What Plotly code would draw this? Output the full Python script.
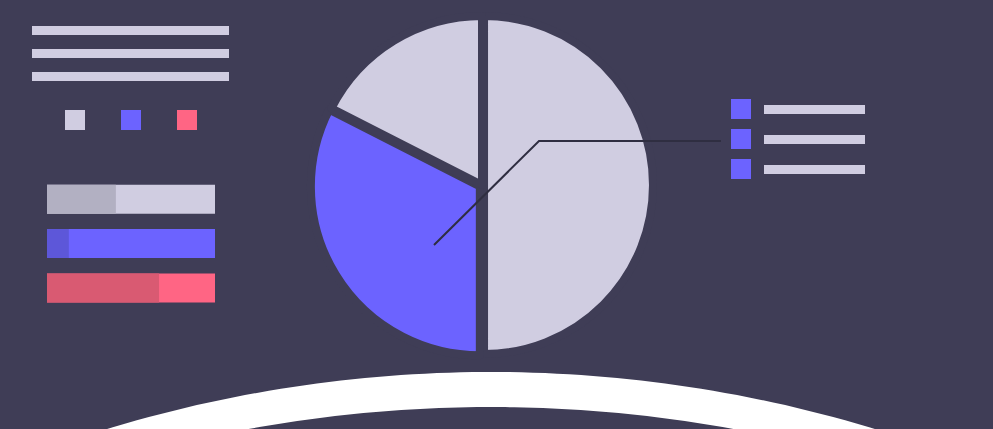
import numpy as np
import plotly.graph_objects as go

# ---- data ----
pie_labels = ["A", "B", "C"]
pie_values = [50, 32.5, 17.5]
pie_colors = ["#d0cde1", "#6c63ff", "#d0cde1"]
pie_pull = [0.012, 0.015, 0.0]

progress_names = ["one", "two", "three"]
progress_fracs = [0.41, 0.13, 0.667]
progress_main = ["#d0cde1", "#6c63ff", "#ff6584"]
progress_dark = ["#b2b0c2", "#5d57d9", "#d95a72"]

legend_colors = ["#d0cde1", "#6c63ff", "#ff6584"]

BG = "#3f3d56"
LIGHT = "#d0cde1"
BLUE = "#6c63ff"
DARK = "#2f2e41"
W, H = 993, 429

fig = go.Figure()

# progress bars (horizontal bars on a pixel-scaled hidden axis)
bar_y = [199.3, 243.5, 288.0]
bar_base, bar_len, bar_w = 47, 168, 29
fig.add_trace(go.Bar(
    y=bar_y, x=[bar_len] * 3, base=[bar_base] * 3, orientation="h",
    width=bar_w, marker=dict(color=progress_main, line=dict(width=0)),
    hoverinfo="skip", showlegend=False))
fig.add_trace(go.Bar(
    y=bar_y, x=[f * bar_len for f in progress_fracs], base=[bar_base] * 3,
    orientation="h", width=bar_w,
    marker=dict(color=progress_dark, line=dict(width=0)),
    hoverinfo="skip", showlegend=False))

# pie
cx, cy, R = 482, 185, 171.5
fig.add_trace(go.Pie(
    labels=pie_labels, values=pie_values, sort=False, direction="clockwise",
    rotation=0, pull=pie_pull, textinfo="none", hoverinfo="skip",
    marker=dict(colors=pie_colors, line=dict(color=BG, width=8)),
    domain=dict(x=[(cx - R) / W, (cx + R) / W],
                y=[(H - cy - R) / H, (H - cy + R) / H]),
    showlegend=False))

shapes = []
# top-left text lines
for y0 in [26, 49, 72]:
    shapes.append(dict(type="rect", x0=32, x1=229, y0=y0, y1=y0 + 9,
                       fillcolor=LIGHT, line=dict(width=0)))
# left legend squares
for x0, c in zip([65, 121, 177], legend_colors):
    shapes.append(dict(type="rect", x0=x0, x1=x0 + 20, y0=110, y1=130,
                       fillcolor=c, line=dict(width=0)))
# right legend
for y0 in [99, 129, 159]:
    shapes.append(dict(type="rect", x0=731, x1=751, y0=y0, y1=y0 + 20,
                       fillcolor=BLUE, line=dict(width=0)))
    shapes.append(dict(type="rect", x0=764, x1=865, y0=y0 + 6, y1=y0 + 15,
                       fillcolor=LIGHT, line=dict(width=0)))
# leader line
shapes.append(dict(type="path", path="M 434 245 L 539 141 L 721 141",
                   line=dict(color=DARK, width=2), layer="above"))

# bottom white ring
def arc(xc, yc, r, y_cut):
    dx = np.sqrt(r ** 2 - (yc - y_cut) ** 2)
    xs = np.linspace(xc - dx, xc + dx, 80)
    ys = yc - np.sqrt(r ** 2 - (xs - xc) ** 2)
    return xs, ys

ox, oy = arc(491, 1694, 1322, 460)
ix, iy = arc(491, 1749, 1342, 460)
pts = [f"{x:.1f} {y:.1f}" for x, y in zip(ox, oy)]
pts += [f"{x:.1f} {y:.1f}" for x, y in zip(ix[::-1], iy[::-1])]
path = "M " + " L ".join(pts) + " Z"
shapes.append(dict(type="path", path=path, fillcolor="#ffffff",
                   line=dict(width=0), layer="above"))

fig.update_layout(
    width=W, height=H, margin=dict(l=0, r=0, t=0, b=0),
    paper_bgcolor=BG, plot_bgcolor=BG, barmode="overlay",
    xaxis=dict(range=[0, W], visible=False, fixedrange=True),
    yaxis=dict(range=[H, 0], visible=False, fixedrange=True),
    shapes=shapes, showlegend=False)

fig.write_html("out.html", config={"displayModeBar": False})
